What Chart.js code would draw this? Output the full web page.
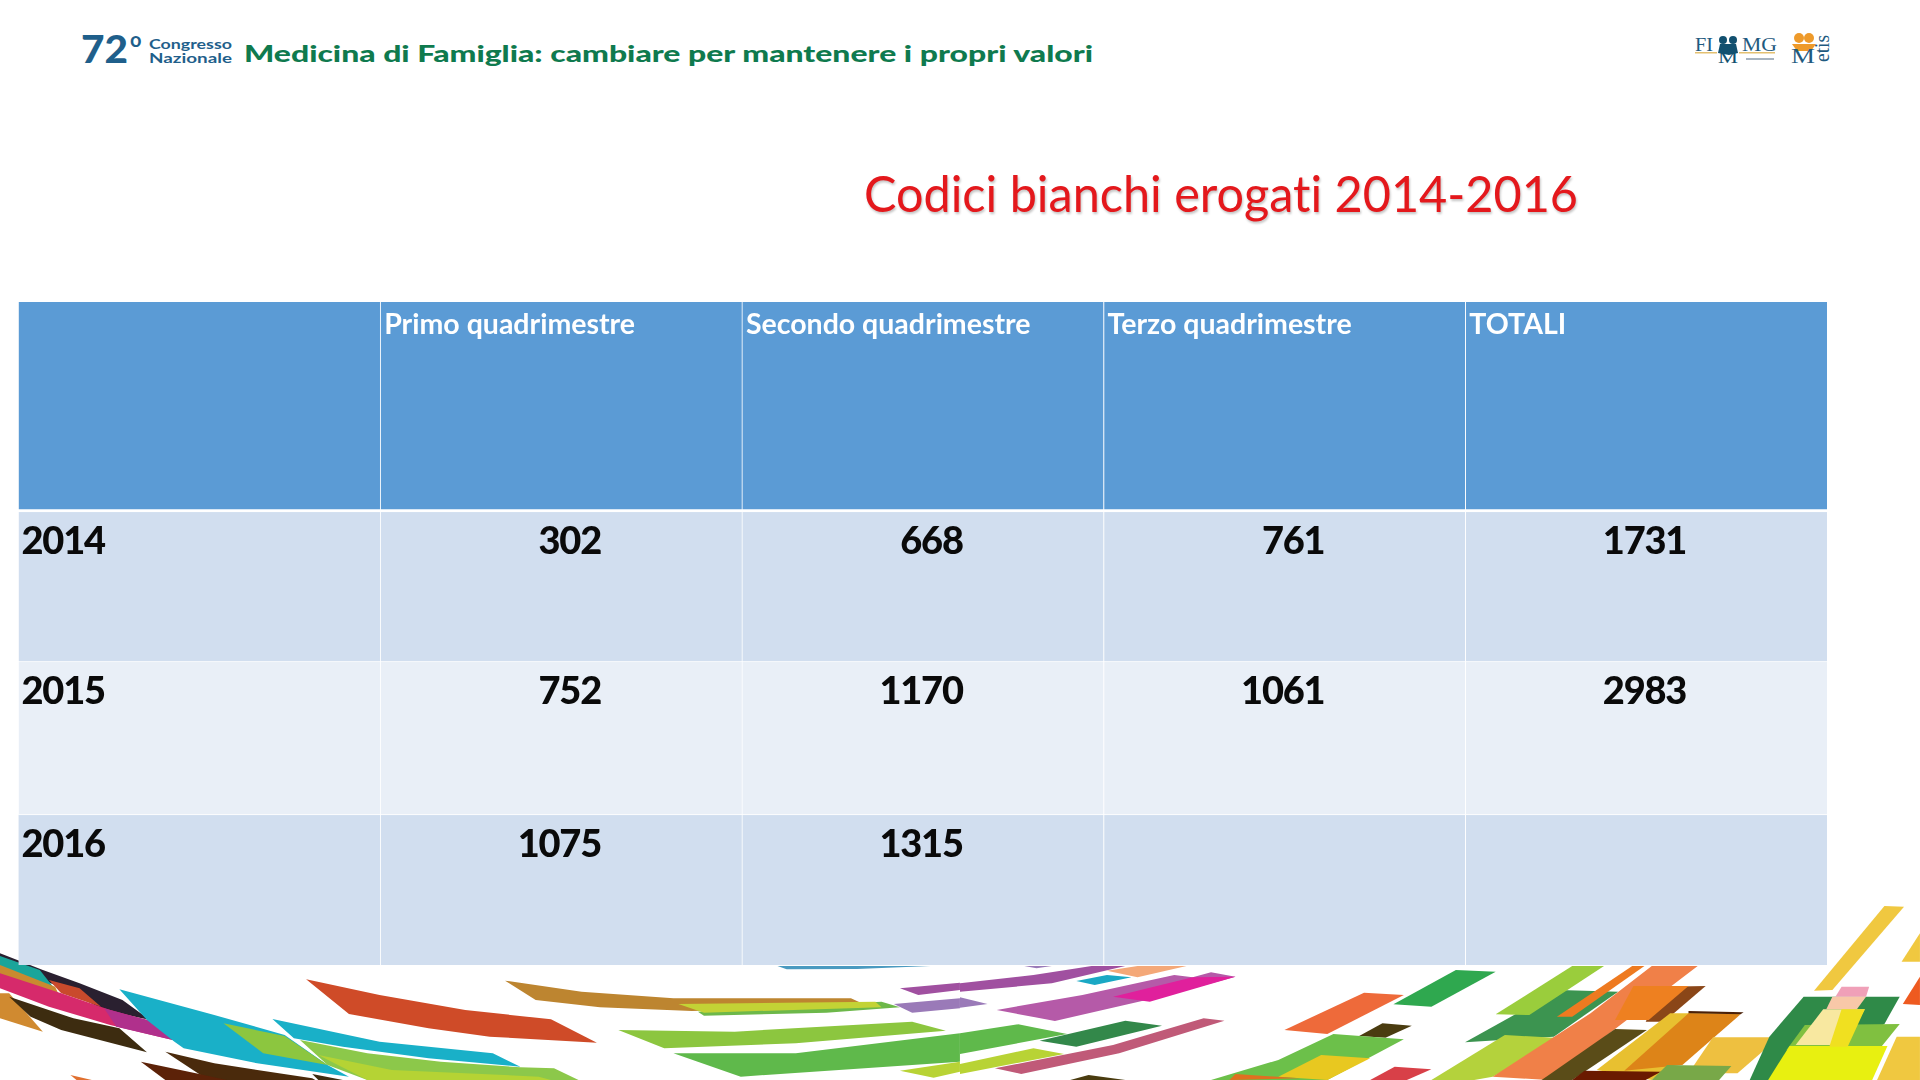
<!DOCTYPE html>
<html>
<head>
<meta charset="utf-8">
<title>Codici bianchi erogati 2014-2016</title>
<script src="https://cdn.jsdelivr.net/npm/chart.js@4"></script>
<style>
  html, body { margin: 0; padding: 0; background: #fff; width: 1920px; height: 1080px; overflow: hidden; }
  svg, canvas { position: absolute; left: 0; top: 0; }
  .title { font-family: Lato; font-size: 50px; fill: #e4181c; font-variant-ligatures: none; filter: drop-shadow(1px 2px 1px #c4c4c4); }
</style>
</head>
<body>
<svg id="deco" width="1920" height="1080" viewBox="0 0 1920 1080">
  <!-- banner -->
  <text x="81" y="63" font-family="Lato" font-weight="900" font-size="37" fill="#1f5f8b" textLength="47" lengthAdjust="spacingAndGlyphs">72</text>
  <text x="130" y="47" font-family="Lato" font-weight="700" font-size="20" fill="#1f5f8b">o</text>
  <text x="149" y="49" font-family="Lato" font-weight="700" font-size="14" fill="#1f5f8b" textLength="83" lengthAdjust="spacingAndGlyphs">Congresso</text>
  <text x="149" y="63" font-family="Lato" font-weight="700" font-size="14" fill="#1f5f8b" textLength="83" lengthAdjust="spacingAndGlyphs">Nazionale</text>
  <text x="244" y="62" font-family="Lato" font-weight="900" font-size="23" fill="#0f7a4e" textLength="849" lengthAdjust="spacingAndGlyphs">Medicina di Famiglia: cambiare per mantenere i propri valori</text>

  <!-- logos -->
  <text x="1695" y="51" font-family="Liberation Serif" font-size="18" fill="#1f5a80" textLength="18" lengthAdjust="spacingAndGlyphs">FI</text>
  <text x="1742" y="51" font-family="Liberation Serif" font-size="18" fill="#1f5a80" textLength="35" lengthAdjust="spacingAndGlyphs">MG</text>
  <circle cx="1723" cy="40" r="4" fill="#12506f"/><circle cx="1733" cy="40" r="4" fill="#12506f"/>
  <path d="M1718 53 L1720 44 L1736 44 L1738 53 L1729 55 Z" fill="#12506f"/>
  <text x="1718" y="63" font-family="Liberation Serif" font-size="17" fill="#12506f" textLength="20" lengthAdjust="spacingAndGlyphs">M</text>
  <rect x="1695" y="52" width="22" height="1.5" fill="#e3c070"/><rect x="1739" y="52" width="36" height="1.5" fill="#e3c070"/>
  <rect x="1746" y="58" width="28" height="2" fill="#a8b4c0"/>
  <circle cx="1799" cy="38" r="5" fill="#ee9a2a"/><circle cx="1809" cy="38" r="5" fill="#ee9a2a"/>
  <path d="M1792 44 L1816 44 L1811 51 L1797 51 Z" fill="#ee9a2a"/>
  <text x="1791" y="63" font-family="Liberation Serif" font-size="21" fill="#1f5a80" textLength="24" lengthAdjust="spacingAndGlyphs">M</text>
  <text transform="translate(1829 62) rotate(-90)" font-family="Liberation Serif" font-size="20" fill="#1f5a80" textLength="27" lengthAdjust="spacingAndGlyphs">etis</text>

  <text class="title" x="864" y="212" textLength="714" lengthAdjust="spacingAndGlyphs">Codici bianchi erogati 2014-2016</text>

  <!-- ribbons, left half -->
  <g transform="translate(0 930) scale(.6122 .3333)">
    <polygon fill="#2a2030" points="0,70 70,120 130,160 200,210 245,270 170,240 90,165 0,100"/>
    <polygon fill="#1aa59a" points="0,78 65,120 95,190 0,120"/>
    <polygon fill="#c98a30" points="0,105 90,170 95,190 0,150"/>
    <polygon fill="#c94a2c" points="80,150 130,175 165,230 100,190"/>
    <polygon fill="#d08a30" points="0,190 15,190 70,305 0,265"/>
    <polygon fill="#3d2c10" points="15,200 120,265 195,295 240,367 100,300 50,260"/>
    <polygon fill="#d62a6b" points="0,130 100,190 180,240 260,280 340,320 375,370 270,325 180,285 80,230 0,175"/>
    <polygon fill="#b0308c" points="170,235 260,280 340,320 375,370 270,325 190,290"/>
    <polygon fill="#19b0c8" points="195,178 350,255 465,315 535,405 570,440 420,400 300,355 285,335 240,270"/>
    <polygon fill="#8cc63f" points="365,280 465,318 535,405 430,370"/>
    <polygon fill="#19b0c8" points="445,267 620,335 805,370 850,410 700,385 560,350 480,325"/>
    <polygon fill="#8cc84a" points="490,330 600,370 720,395 850,412 905,415 945,450 600,450 535,405"/>
    <polygon fill="#b5d334" points="520,375 640,420 880,440 900,450 600,450"/>
    <polygon fill="#4a2a0c" points="270,365 350,400 510,445 515,450 340,450"/>
    <polygon fill="#5c2208" points="230,395 320,430 370,450 270,450"/>
    <polygon fill="#e07030" points="115,435 150,450 125,450"/>
    <polygon fill="#3d2c10" points="510,432 560,450 520,450"/>
    <polygon fill="#cf4b28" points="500,148 620,195 760,240 900,268 975,338 800,320 700,295 570,252"/>
    <polygon fill="#bd8530" points="825,152 950,185 1100,205 1390,205 1420,230 1130,243 980,232 875,210"/>
    <polygon fill="#6db84a" points="1140,245 1440,215 1470,232 1350,248 1150,257"/>
    <polygon fill="#c3d335" points="1108,222 1430,215 1440,232 1150,248"/>
    <polygon fill="#a050a0" points="1470,175 1568,158 1568,180 1500,195"/>
    <polygon fill="#9a7ab8" points="1460,222 1568,205 1568,235 1490,248"/>
    <polygon fill="#4a9ac0" points="1270,108 1520,108 1400,117 1285,118"/>
    <polygon fill="#8cc63f" points="1010,300 1200,305 1490,275 1545,302 1300,340 1085,355"/>
    <polygon fill="#5fb94b" points="1100,370 1300,370 1568,310 1568,395 1210,440"/>
    <polygon fill="#b8d335" points="1470,422 1568,395 1568,425 1525,443"/>
  </g>
  <!-- ribbons, right half -->
  <g transform="translate(960 880) scale(.6122 .3333)">
    <polygon fill="#a050a0" points="0,310 120,285 215,258 270,258 150,310 0,335"/>
    <polygon fill="#9a7ab8" points="105,258 150,258 125,265"/>
    <polygon fill="#f4a878" points="240,272 290,258 370,258 290,292"/>
    <polygon fill="#1aa8c4" points="190,303 240,285 280,292 220,315"/>
    <polygon fill="#b55aa8" points="60,390 200,345 350,285 380,292 410,277 450,290 340,345 155,423"/>
    <polygon fill="#e0209c" points="250,350 380,292 450,290 310,365"/>
    <polygon fill="#9a7ab8" points="0,352 45,372 0,383"/>
    <polygon fill="#5fb94b" points="0,460 95,433 175,462 0,522"/>
    <polygon fill="#33884a" points="130,482 270,422 330,437 190,500"/>
    <polygon fill="#b8d335" points="0,552 120,505 170,522 0,582"/>
    <polygon fill="#c05a78" points="57,565 250,495 398,415 432,422 260,520 100,582"/>
    <polygon fill="#2fa84f" points="810,270 875,275 770,380 708,373"/>
    <polygon fill="#ee6a3a" points="660,338 725,345 600,462 530,450"/>
    <polygon fill="#4a3c10" points="690,430 738,437 695,473 652,468"/>
    <polygon fill="#6cc04a" points="610,462 725,478 600,600 410,600 520,540"/>
    <polygon fill="#e8c820" points="590,525 670,535 600,600 520,590"/>
    <polygon fill="#e07020" points="450,582 555,595 440,600"/>
    <polygon fill="#d84048" points="710,560 770,568 730,600 670,600"/>
    <polygon fill="#4a3c10" points="210,585 270,600 180,600"/>
    <polygon fill="#3c9450" points="980,330 1075,335 970,470 825,487 910,400"/>
    <polygon fill="#9acd3c" points="1000,258 1052,258 930,405 875,403"/>
    <polygon fill="#b4d23c" points="890,465 985,475 870,590 840,600 770,600"/>
    <polygon fill="#ee7a20" points="1098,258 1118,258 1000,410 975,410"/>
    <polygon fill="#8a4618" points="1150,320 1218,318 1150,425 1120,425"/>
    <polygon fill="#f08048" points="1130,258 1205,258 1000,545 960,600 870,590 1030,400"/>
    <polygon fill="#ee8020" points="1100,318 1190,318 1125,420 1070,420"/>
    <polygon fill="#e8c030" points="1160,400 1275,400 1130,600 1040,570"/>
    <polygon fill="#dd8418" points="1190,400 1275,403 1180,555 1085,572"/>
    <polygon fill="#4a2008" points="1190,393 1280,397 1275,403 1190,400"/>
    <polygon fill="#5a4c18" points="1070,447 1122,450 1000,600 950,600"/>
    <polygon fill="#eec040" points="1230,472 1338,472 1270,580 1190,580"/>
    <polygon fill="#6a1a00" points="1020,572 1145,575 1120,600 1000,600"/>
    <polygon fill="#78a848" points="1155,555 1260,558 1240,600 1130,600"/>
    <polygon fill="#2f8a48" points="1378,350 1535,350 1510,432 1440,500 1330,600 1290,600 1322,470"/>
    <polygon fill="#80c040" points="1380,435 1535,432 1505,500 1350,510"/>
    <polygon fill="#e8f010" points="1355,498 1515,498 1490,600 1320,600"/>
    <polygon fill="#f0c840" points="1510,78 1542,80 1425,330 1395,332"/>
    <polygon fill="#f0c840" points="1568,160 1568,245 1538,245"/>
    <polygon fill="#ee5a20" points="1568,290 1568,375 1540,372"/>
    <polygon fill="#f0a0b8" points="1440,320 1485,320 1480,350 1430,350"/>
    <polygon fill="#f8c8a8" points="1425,350 1480,350 1465,388 1415,388"/>
    <polygon fill="#f8e8a0" points="1410,388 1478,388 1445,495 1365,495"/>
    <polygon fill="#f0e020" points="1440,388 1478,388 1450,500 1420,500"/>
    <polygon fill="#f0c840" points="1530,470 1568,470 1568,600 1498,600"/>
  </g>
</svg>
<canvas id="myChart" width="1920" height="1080"></canvas>
<script>
// table content
var columns = ['', 'Primo quadrimestre', 'Secondo quadrimestre', 'Terzo quadrimestre', 'TOTALI'];
var years = ['2014', '2015', '2016'];
var values2014 = [302, 668, 761, 1731];
var values2015 = [752, 1170, 1061, 2983];
var values2016 = [1075, 1315, null, null];

// row heights and fills, each row is one stack segment
var rowHeights = [210, 150, 153, 150];
var rowColors = ['#5b9bd5', '#d1deef', '#e9eff7', '#d1deef'];
var rowGaps = [3, 1, 1, 0];

var rows = [columns, [years[0]].concat(values2014), [years[1]].concat(values2015), [years[2]].concat(values2016)];

var datasets = rows.map(function (row, i) {
  return {
    label: i === 0 ? 'header' : years[i - 1],
    data: columns.map(function () { return rowHeights[i]; }),
    backgroundColor: rowColors[i],
    borderColor: '#ffffff',
    borderSkipped: false,
    borderWidth: function (c) {
      return { left: c.dataIndex === 0 ? 0 : 1, right: 0, top: 0, bottom: rowGaps[i] };
    },
    barPercentage: 1,
    categoryPercentage: 1
  };
});

// cell texts, placed from the bar elements
var cellText = {
  id: 'cellText',
  afterDatasetsDraw: function (chart) {
    var ctx = chart.ctx;
    ctx.save();
    ctx.textBaseline = 'alphabetic';
    rows.forEach(function (row, i) {
      var meta = chart.getDatasetMeta(i);
      row.forEach(function (txt, c) {
        if (txt === null || txt === '') return;
        var bar = meta.data[c];
        var top = Math.min(bar.y, bar.base);
        var left = bar.x - bar.width / 2;
        if (i === 0) {
          ctx.font = '700 28.5px Lato';
          ctx.letterSpacing = '0px';
          ctx.fillStyle = '#ffffff';
          ctx.textAlign = 'left';
          ctx.fillText(txt, left + 4, top + 32);
        } else {
          ctx.font = '900 38px Lato';
          ctx.letterSpacing = '-1.2px';
          ctx.fillStyle = '#0a0a0a';
          if (c === 0) {
            ctx.textAlign = 'left';
            ctx.fillText(txt, left + 3, top + 42);
          } else {
            ctx.textAlign = 'right';
            ctx.fillText(String(txt), bar.x + 40, top + 42);
          }
        }
      });
    });
    ctx.restore();
  }
};

var ctx = document.getElementById('myChart').getContext('2d');
var myChart = new Chart(ctx, {
  type: 'bar',
  data: { labels: columns, datasets: datasets },
  plugins: [cellText],
  options: {
    responsive: false,
    animation: false,
    layout: { padding: { left: 18.5, right: 93, top: 302, bottom: 115 } },
    plugins: { legend: { display: false }, tooltip: { enabled: false }, title: { display: false } },
    scales: {
      x: { stacked: true, display: false },
      y: { stacked: true, display: false, reverse: true, min: 0, max: 663 }
    }
  }
});
</script>
</body>
</html>
